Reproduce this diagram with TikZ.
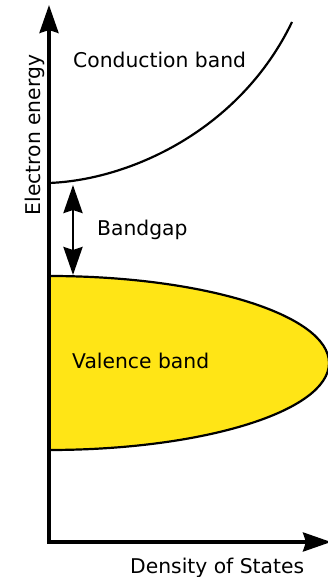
\documentclass[tikz,border=0pt]{standalone}
\usepackage{fontspec}
\setmainfont{DejaVu Sans}
\usetikzlibrary{arrows.meta}
\definecolor{bandyel}{HTML}{FFE516}

\begin{document}
\begin{tikzpicture}[x=1pt, y=1pt,
      font=\fontsize{20.3pt}{24pt}\selectfont,
      axis/.style={line width=3.4pt, line join=miter,
                   {Stealth[length=28pt, width=19pt, inset=3pt]}-{Stealth[length=28pt, width=19pt, inset=3pt]}},
      gaparr/.style={line width=2.8pt,
                   {Stealth[length=28pt, width=19pt, inset=3pt]}-{Stealth[length=28pt, width=19pt, inset=3pt]}},
      edge/.style={line width=2.2pt},
      band/.style={edge, fill=bandyel},
      lbl/.style={anchor=base west, inner sep=0pt}
    ]
    \useasboundingbox (0,0) rectangle (327,577);
    % ------------- valence band -------------
    \draw[band] (49,301) arc[start angle=90, end angle=-90, x radius=280pt, y radius=87pt] -- cycle;
    % ------------- conduction band -------------
    \coordinate (cbot) at (49,394);
    \coordinate (ctop) at (292,555);
    \draw[edge] (cbot) .. controls (130,397) and (240,447) .. (ctop);
    % ------------- axes -------------
    \coordinate (origin) at (49,35);
    \coordinate (ytip) at (49,572);
    \coordinate (xtip) at (331,35);
    \draw[axis] (xtip) -- (origin) -- (ytip);
    % ------------- bandgap -------------
    \coordinate (gtop) at (73,392);
    \coordinate (gbot) at (73,302);
    \draw[gaparr] (gtop) -- (gbot);
    % ------------- labels -------------
    \node[lbl] (cond) at (73,509) {Conduction band};
    \node[lbl] (gap) at (97,341) {Bandgap};
    \node[lbl] (val) at (72,208) {Valence band};
    \node[lbl] (dos) at (130,4) {Density of States};
    \node[anchor=base, inner sep=0pt, rotate=90] (energy) at (40,442) {Electron energy};
\end{tikzpicture}
\end{document}
